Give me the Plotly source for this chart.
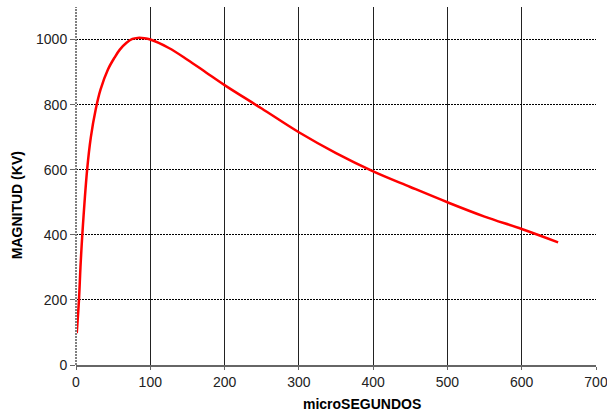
import plotly.graph_objects as go

# Data
time_us = [1, 4, 6, 8.5, 15, 20, 26.5, 33, 43, 52, 59, 68, 76, 83, 92, 100,
           125, 150, 175, 200, 250, 300, 350, 400, 450, 500, 550, 600, 649]
magnitude_kv = [98, 200, 300, 400, 600, 700, 785, 846, 908, 945, 969, 990,
                1002, 1005, 1004, 1000, 974, 938, 899, 860, 788, 715, 651,
                595, 547, 500, 456, 418, 377]

x_ticks = [0, 100, 200, 300, 400, 500, 600, 700]
y_ticks = [0, 200, 400, 600, 800, 1000]

fig = go.Figure()
fig.add_trace(go.Scatter(
    x=time_us, y=magnitude_kv, mode="lines",
    line=dict(color="#ff0000", width=2.5, shape="spline", smoothing=1.0),
    showlegend=False, hoverinfo="skip",
))

font_family = "Liberation Sans, Arial, sans-serif"

fig.update_layout(
    width=607, height=414,
    margin=dict(l=76, r=11, t=7, b=49, autoexpand=False),
    paper_bgcolor="white", plot_bgcolor="white",
    font=dict(family=font_family, size=14, color="#222222"),
    xaxis=dict(
        range=[0, 700], tickvals=x_ticks, ticktext=[str(v) for v in x_ticks],
        showgrid=True, gridcolor="#222222", gridwidth=1,
        zeroline=False, showline=True, linecolor="#666666", linewidth=2,
        ticks="outside", ticklen=3, tickcolor="#666666",
        automargin=False, ticklabeloverflow="allow",
    ),
    yaxis=dict(
        range=[0, 1100], tickvals=y_ticks, ticktext=[str(v) for v in y_ticks],
        showgrid=True, gridcolor="#000000", gridwidth=1, griddash="2px,1px",
        zeroline=False, showline=False,
        ticks="outside", ticklen=5, tickcolor="#666666",
        automargin=False,
    ),
    annotations=[
        dict(text="<b>microSEGUNDOS</b>", xref="paper", yref="paper",
             x=0.55, y=-0.109, xanchor="center", yanchor="middle",
             showarrow=False, font=dict(size=14, color="#000000")),
        dict(text="<b>MAGNITUD (KV)</b>", xref="paper", yref="paper",
             x=-0.113, y=0.447, xanchor="center", yanchor="middle",
             textangle=-90, showarrow=False,
             font=dict(size=14, color="#000000")),
    ],
)

# dotted left axis line
fig.add_shape(type="line", xref="x domain", yref="y domain",
              x0=0, x1=0, y0=0, y1=1,
              line=dict(color="white", width=2), layer="above")
fig.add_shape(type="line", xref="x domain", yref="y domain",
              x0=0, x1=0, y0=0, y1=1,
              line=dict(color="black", width=1, dash="2px,1px"), layer="above")

fig.write_html(
    "out.html",
    config={"displayModeBar": False},
    post_script="document.body.style.margin='0px';"
                "document.body.style.overflow='hidden';",
)
